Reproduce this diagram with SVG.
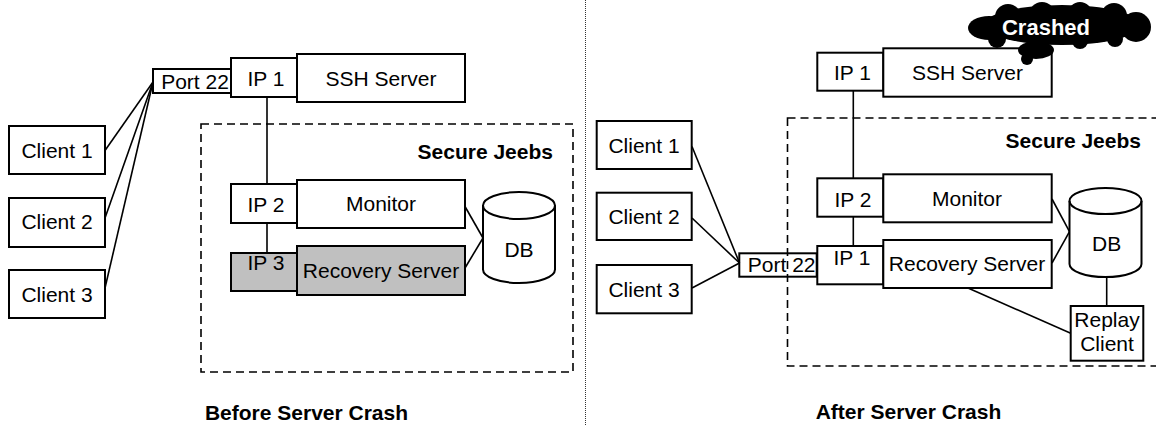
<svg xmlns="http://www.w3.org/2000/svg" width="1156" height="425" viewBox="0 0 1156 425">
<style>
  .box { fill: #ffffff; stroke: #000000; stroke-width: 2; }
  .gray { fill: #c0c0c0; }
  .open { fill: none; }
  .t { font-family: "Liberation Sans", Arial, sans-serif; font-size: 21px; fill: #000000; text-anchor: middle; }
  .b { font-weight: bold; }
  .end { text-anchor: end; }
  .dash { fill: none; stroke: #000000; stroke-width: 1.6; stroke-dasharray: 8 5; }
  .div { fill: none; stroke: #333333; stroke-width: 1; stroke-dasharray: 1 1; }
  .conn line { stroke: #000000; stroke-width: 1.6; fill: none; }
  .cloud { fill: #000000; }
</style>

<!-- divider -->
<line class="div" x1="585.5" y1="0" x2="585.5" y2="425"/>

<!-- Secure Jeebs regions -->
<g id="secure-jeebs-before">
  <rect class="dash" x="201" y="124" width="372" height="248"/>
  <text class="t b end" x="553" y="159">Secure Jeebs</text>
</g>
<g id="secure-jeebs-after">
  <rect class="dash" x="787.5" y="118" width="380" height="248"/>
  <text class="t b end" x="1141" y="148">Secure Jeebs</text>
</g>

<!-- connectors -->
<g id="connectors" class="conn">
  <!-- before -->
  <line x1="105" y1="150.5" x2="153" y2="82"/>
  <line x1="105" y1="218" x2="153" y2="82"/>
  <line x1="105" y1="288" x2="153" y2="82"/>
  <line x1="267" y1="97" x2="267" y2="184"/>
  <line x1="267" y1="223" x2="267" y2="253"/>
  <line x1="465" y1="206.5" x2="483" y2="238"/>
  <line x1="465" y1="268" x2="483" y2="238"/>
  <!-- after -->
  <line x1="692" y1="146.5" x2="739.5" y2="263"/>
  <line x1="692" y1="218" x2="739.5" y2="263"/>
  <line x1="692" y1="288" x2="739.5" y2="263"/>
  <line x1="853.3" y1="90.7" x2="853.3" y2="178.3"/>
  <line x1="853.3" y1="216.7" x2="853.3" y2="246"/>
  <line x1="1052" y1="199" x2="1069.5" y2="231.7"/>
  <line x1="1052" y1="263" x2="1069.5" y2="231.7"/>
  <line x1="1106.7" y1="277" x2="1106.7" y2="306"/>
  <line x1="968" y1="288" x2="1070.7" y2="333.3"/>
</g>

<!-- BEFORE nodes -->
<g id="b-client1"><rect class="box" x="9" y="126" width="96" height="48"/><text class="t" x="57" y="157.5">Client 1</text></g>
<g id="b-client2"><rect class="box" x="9" y="198" width="96" height="49"/><text class="t" x="57" y="229">Client 2</text></g>
<g id="b-client3"><rect class="box" x="9" y="270" width="96" height="48"/><text class="t" x="57" y="301.5">Client 3</text></g>
<g id="b-port22"><rect class="box open" x="153" y="69" width="78" height="24"/><text class="t" x="195" y="89">Port 22</text></g>
<g id="b-ip1"><rect class="box" x="231" y="58" width="66" height="39"/><text class="t" x="266" y="86">IP 1</text></g>
<g id="b-ssh"><rect class="box" x="297" y="54" width="168" height="48"/><text class="t" x="381" y="85.5">SSH Server</text></g>
<g id="b-ip2"><rect class="box" x="231" y="184" width="66" height="39"/><text class="t" x="266" y="211.5">IP 2</text></g>
<g id="b-monitor"><rect class="box" x="297" y="180" width="168" height="48"/><text class="t" x="381" y="211">Monitor</text></g>
<g id="b-ip3"><rect class="box gray" x="231" y="253" width="66" height="38"/><text class="t" x="266" y="270">IP 3</text></g>
<g id="b-recovery"><rect class="box gray" x="297" y="246" width="168" height="49"/><text class="t" x="381" y="278">Recovery Server</text></g>
<g id="b-db">
  <path class="box" d="M483,205.5 L483,269.5 A36,13.5 0 0 0 555,269.5 L555,205.5 A36,13.5 0 0 0 483,205.5 Z"/>
  <path class="box open" d="M483,205.5 A36,13.5 0 0 0 555,205.5"/>
  <text class="t" x="519" y="257">DB</text>
</g>

<!-- AFTER nodes -->
<g id="a-client1"><rect class="box" x="596.7" y="121" width="95" height="48"/><text class="t" x="644" y="152.5">Client 1</text></g>
<g id="a-client2"><rect class="box" x="596.7" y="192.7" width="95" height="47.3"/><text class="t" x="644" y="224">Client 2</text></g>
<g id="a-client3"><rect class="box" x="596.7" y="265" width="95" height="48.3"/><text class="t" x="644" y="296.5">Client 3</text></g>
<g id="a-port22"><rect class="box open" x="739.3" y="253.3" width="77.4" height="23.4"/><text class="t" x="781.7" y="272">Port 22</text></g>
<g id="a-ip1"><rect class="box" x="817.3" y="52.7" width="66" height="38"/><text class="t" x="852.5" y="80">IP 1</text></g>
<g id="a-ssh"><rect class="box" x="883.3" y="48.3" width="168.4" height="48.4"/><text class="t" x="967.5" y="80">SSH Server</text></g>
<g id="a-ip2"><rect class="box" x="817.3" y="178.3" width="66" height="38.4"/><text class="t" x="853" y="206.5">IP 2</text></g>
<g id="a-monitor"><rect class="box" x="883.3" y="174.3" width="168.4" height="48"/><text class="t" x="967" y="205.5">Monitor</text></g>
<g id="a-ip1b"><rect class="box" x="817.3" y="246" width="66" height="38.3"/><text class="t" x="852" y="265">IP 1</text></g>
<g id="a-recovery"><rect class="box" x="883.3" y="240" width="168.4" height="48"/><text class="t" x="967" y="271">Recovery Server</text></g>
<g id="a-db">
  <path class="box" d="M1069.5,201 L1069.5,264 A36,13 0 0 0 1141.5,264 L1141.5,201 A36,13 0 0 0 1069.5,201 Z"/>
  <path class="box open" d="M1069.5,201 A36,13 0 0 0 1141.5,201"/>
  <text class="t" x="1106.7" y="250.7">DB</text>
</g>
<g id="a-replay"><rect class="box" x="1070.7" y="306" width="72.6" height="54.7"/><text class="t" x="1107" y="326.7">Replay</text><text class="t" x="1107" y="350.7">Client</text></g>

<g id="crashed">
  <g class="cloud">
    <ellipse cx="1062" cy="25" rx="78" ry="20"/>
    <ellipse cx="989" cy="28" rx="21" ry="12"/>
    <circle cx="1008" cy="17" r="13"/>
    <circle cx="1042" cy="15" r="13"/>
    <circle cx="1080" cy="14" r="12"/>
    <circle cx="1114" cy="16" r="13"/>
    <circle cx="1136" cy="27" r="15"/>
    <circle cx="1115" cy="39" r="8"/>
    <circle cx="1080" cy="41" r="8"/>
    <circle cx="997" cy="39" r="9"/>
    <ellipse cx="1036" cy="50" rx="18" ry="9"/>
    <circle cx="1027" cy="59" r="6"/>
  </g>
  <text class="t b" x="1046" y="35" style="fill:#ffffff;font-size:22px">Crashed</text>
</g>

<!-- captions -->
<text id="cap-before" class="t b" x="306.5" y="420">Before Server Crash</text>
<text id="cap-after" class="t b" x="908.5" y="419">After Server Crash</text>
</svg>
